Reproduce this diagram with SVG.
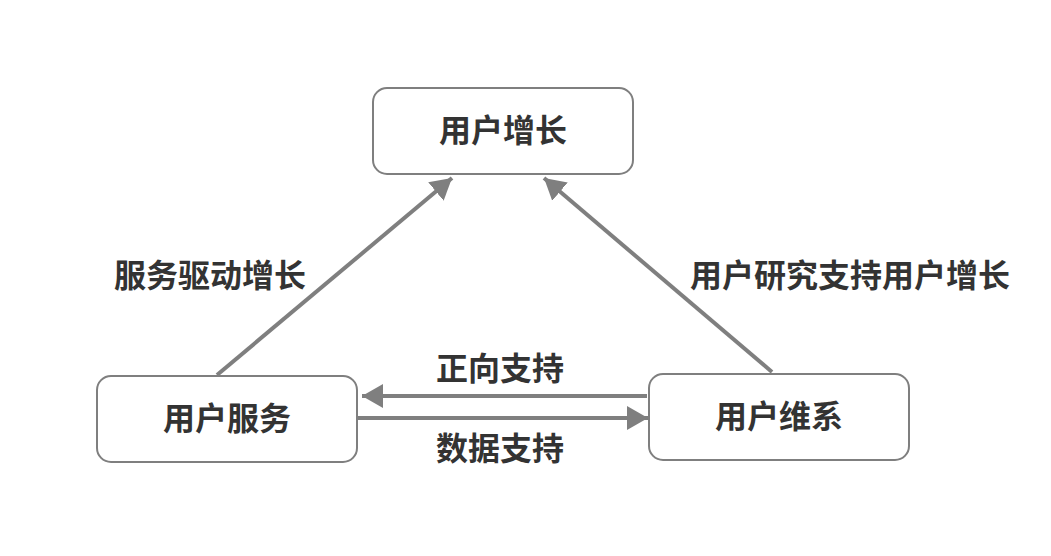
<svg xmlns="http://www.w3.org/2000/svg" width="1051" height="556" viewBox="0 0 1051 556">
<style>
.box{fill:#fff;stroke:#7f7f7f;stroke-width:2}
.t{font-family:"Noto Sans CJK SC","Noto Sans",sans-serif;font-weight:bold;font-size:32px;fill:#333;text-anchor:middle;dominant-baseline:central}
.c{stroke:#7f7f7f;stroke-width:4;fill:none;marker-end:url(#ah)}
</style>
<defs>
<marker id="ah" markerUnits="userSpaceOnUse" markerWidth="26" markerHeight="26" viewBox="0 0 26 26" refX="21" refY="13" orient="auto">
<path d="M0,1 L21,13 L0,25 Z" fill="#7f7f7f"/>
</marker>
</defs>
<rect width="1051" height="556" fill="#fff"/>
<g id="connectors">
<line class="c" x1="217" y1="375" x2="452" y2="178"/>
<line class="c" x1="772" y1="372" x2="544" y2="178"/>
<line class="c" x1="647" y1="396" x2="362" y2="396"/>
<line class="c" x1="358" y1="418" x2="648" y2="418"/>
<text class="t" x="210" y="273">服务驱动增长</text>
<text class="t" x="850" y="273">用户研究支持用户增长</text>
<text class="t" x="500" y="366">正向支持</text>
<text class="t" x="500" y="446">数据支持</text>
</g>
<g id="n-growth">
<rect class="box" x="373" y="88" width="260" height="86" rx="14"/>
<text class="t" x="503" y="128">用户增长</text>
</g>
<g id="n-service">
<rect class="box" x="97" y="376" width="260" height="86" rx="14"/>
<text class="t" x="227" y="416">用户服务</text>
</g>
<g id="n-maintain">
<rect class="box" x="649" y="374" width="260" height="86" rx="14"/>
<text class="t" x="779" y="414">用户维系</text>
</g>
</svg>
